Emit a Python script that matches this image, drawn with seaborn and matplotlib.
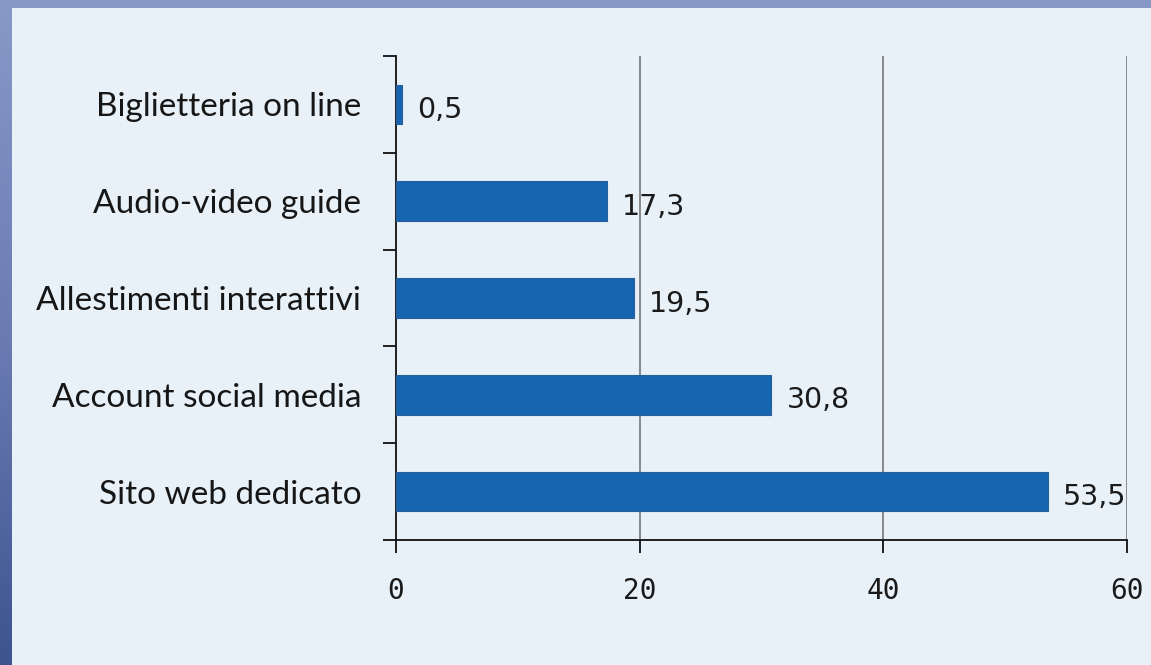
import numpy as np
import pandas as pd
import matplotlib
matplotlib.use("Agg")
import matplotlib.pyplot as plt
from matplotlib.patches import Rectangle
from matplotlib.colors import LinearSegmentedColormap
import seaborn as sns

# Share of museums offering each digital service (%)
categories = [
    "Biglietteria on line",
    "Audio-video guide",
    "Allestimenti interattivi",
    "Account social media",
    "Sito web dedicato",
]
values = [0.5, 17.3, 19.5, 30.8, 53.5]
x_ticks = [0, 20, 40, 60]

df = pd.DataFrame({"servizio": categories, "quota": values})

sns.set_theme(style="white")
plt.rcParams["font.family"] = ["DejaVu Sans"]

W, H, DPI = 1151, 665, 100
fig = plt.figure(figsize=(W / DPI, H / DPI), dpi=DPI)

# Blue gradient frame behind the card
bg = fig.add_axes([0, 0, 1, 1], zorder=-10)
frame_cmap = LinearSegmentedColormap.from_list("frame", ["#8898c8", "#6b7cb3", "#3e548f"])
grad = np.linspace(0, 1, 256).reshape(-1, 1)
bg.imshow(grad, aspect="auto", cmap=frame_cmap, extent=[0, 1, 0, 1], origin="upper")
bg.set_axis_off()

# Light card
card = Rectangle((12 / W, 0), 1.0, 1 - 8 / H, transform=fig.transFigure,
                 facecolor="#e7f1f7", edgecolor="none", zorder=-5)
fig.patches.append(card)

ax = fig.add_axes([396 / W, 1 - 540 / H, (1127 - 396) / W, (540 - 56) / H])
ax.set_facecolor("none")

sns.barplot(data=df, x="quota", y="servizio", orient="h", color="#1565b0",
            saturation=1, width=0.41, edgecolor="#2a5f9c", linewidth=0.8,
            ax=ax, zorder=3)

n = len(categories)
ax.set_xlim(0, 60)
ax.set_ylim(n - 0.5, -0.5)

# Vertical grid at the labelled ticks
for xv in x_ticks[1:]:
    ax.axvline(xv, color="#888888", linewidth=1.4, zorder=1)

for side in ["top", "right"]:
    ax.spines[side].set_visible(False)
for side in ["left", "bottom"]:
    ax.spines[side].set_color("#111111")
    ax.spines[side].set_linewidth(1.3)

ax.set_xticks(x_ticks)
ax.set_xticklabels([str(t) for t in x_ticks], fontfamily="DejaVu Sans Mono",
                   fontsize=20, color="#1a1a1a")
ax.tick_params(axis="x", which="major", direction="out", length=9.5, width=1.3,
               color="#111111", pad=17, bottom=True)

# Tick marks between categories, names centred on the bars
ax.set_yticks(np.arange(-0.5, n, 1.0))
ax.set_yticklabels([])
ax.set_yticks(np.arange(n), minor=True)
ax.set_yticklabels(categories, minor=True, fontfamily="Lato", fontsize=24,
                   color="#161616")
ax.tick_params(axis="y", which="major", direction="out", length=9.5, width=1.3,
               color="#111111", left=True)
ax.tick_params(axis="y", which="minor", length=0, pad=25, left=True)
ax.set_xlabel("")
ax.set_ylabel("")

for i, v in enumerate(values):
    ax.annotate(f"{v:.1f}".replace(".", ","), xy=(v, i), xytext=(11, -4),
                textcoords="offset points", va="center", ha="left",
                fontsize=20.5, color="#1a1a1a", fontfamily="DejaVu Sans")

fig.savefig("out.png", dpi=DPI)
